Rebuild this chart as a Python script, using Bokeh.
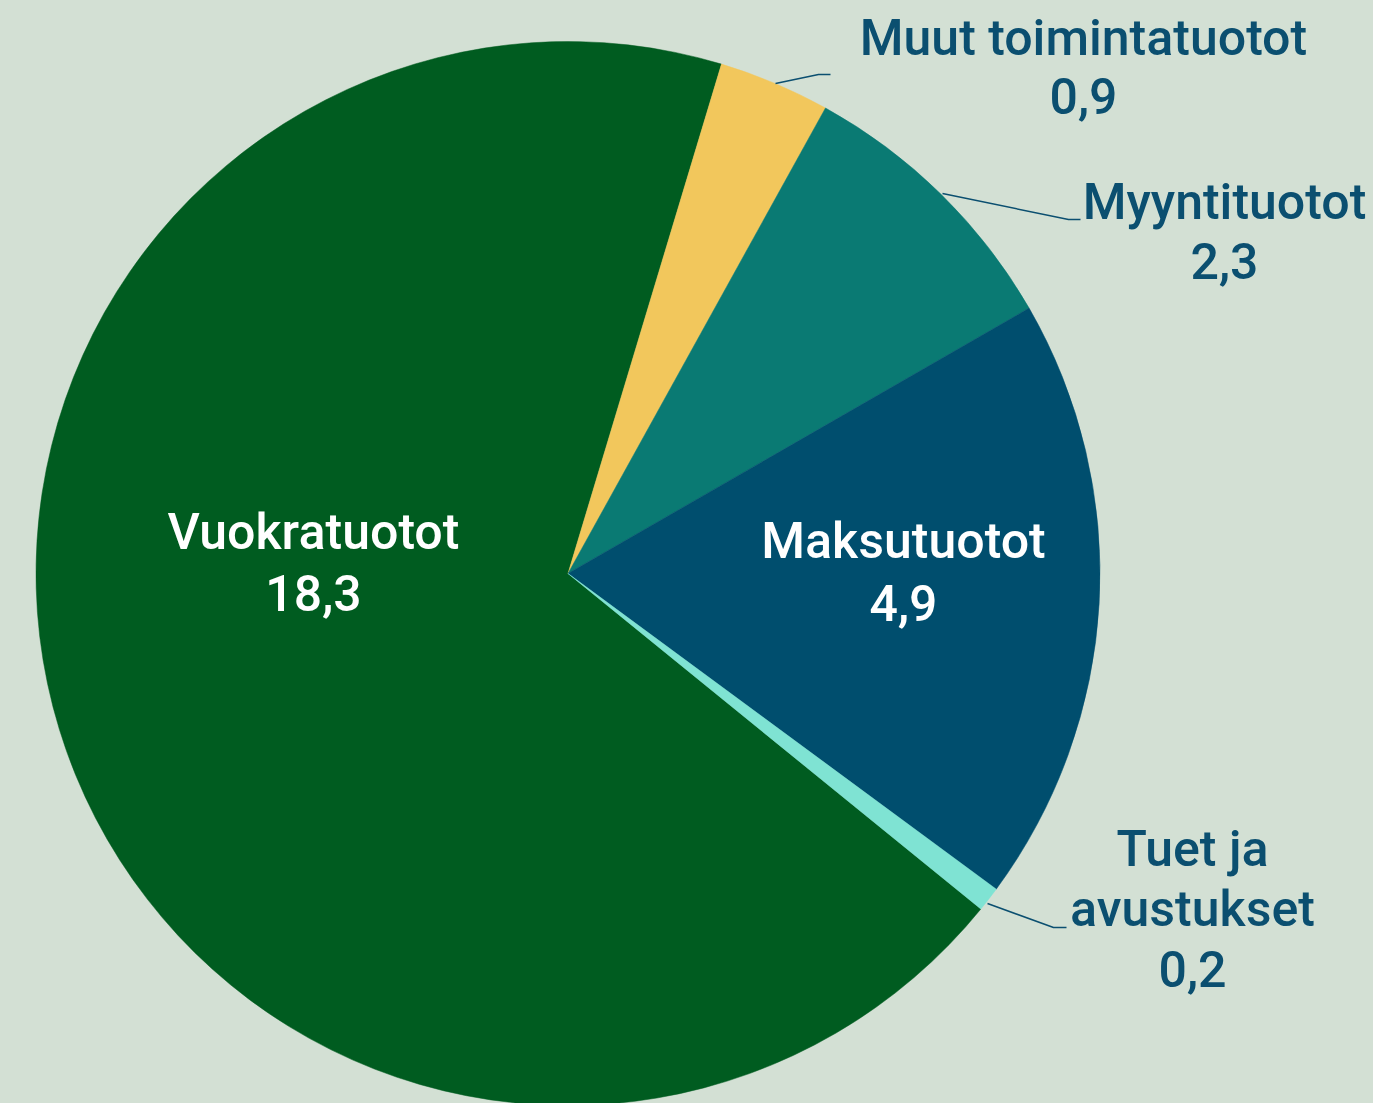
import math
from bokeh.plotting import figure
from bokeh.models import Range1d, ColumnDataSource
from bokeh.core.properties import value
from bokeh.embed import file_html
from bokeh.resources import INLINE

# ---- data ----
categories = ["Vuokratuotot", "Muut toimintatuotot", "Myyntituotot", "Maksutuotot", "Tuet ja avustukset"]
label_lines = [["Vuokratuotot"], ["Muut toimintatuotot"], ["Myyntituotot"], ["Maksutuotot"], ["Tuet ja", "avustukset"]]
values = [18.3, 0.9, 2.3, 4.9, 0.2]
colors = ["#005c20", "#f2c75c", "#0a7a73", "#004e6e", "#7fe3d3"]

BG = "#d3e0d4"
TXT = "#0b4f70"

W, H = 1373, 1103
p = figure(width=W, height=H, output_backend="svg", toolbar_location=None,
           x_range=Range1d(0, W), y_range=Range1d(0, H),
           min_border=0, background_fill_color=BG, border_fill_color=BG,
           outline_line_color=None)
p.axis.visible = False
p.grid.visible = False

def Y(y_img):
    return H - y_img

cx, cy, r = 567.5, Y(573), 532
start_cw = 129.1  # degrees clockwise from top where first slice begins
total = sum(values)
cum = 0.0
starts, ends = [], []
for v in values:
    a0 = start_cw + cum / total * 360.0
    cum += v
    a1 = start_cw + cum / total * 360.0
    starts.append(math.radians(90 - a1))
    ends.append(math.radians(90 - a0))

src = ColumnDataSource(dict(x=[cx] * len(values), y=[cy] * len(values),
                            start=starts, end=ends, color=colors, cat=categories))
p.wedge(x="x", y="y", radius=r, start_angle="start", end_angle="end",
        fill_color="color", line_color="color", line_width=0.5, source=src)

# ---- leader lines ----
leaders = [
    [(775, 83), (818, 74), (830, 74)],
    [(942, 193), (1068, 219), (1080, 219)],
    [(987, 903), (1053, 927), (1066, 927)],
]
for pts in leaders:
    p.line([q[0] for q in pts], [Y(q[1]) for q in pts], line_color=TXT, line_width=1.5)

# ---- labels ----
def fmt(v):
    return f"{v:.1f}".replace(".", ",")

BASE_ADJ = -18  # renderer baseline correction
# (center x, first baseline y, line spacing, colour)
label_pos = [
    (313, 549, 61, "white"),
    (1083, 55, 58, TXT),
    (1224, 219, 59, TXT),
    (903, 558, 62, "white"),
    (1192, 866, 60, TXT),
]
xs, ys, texts, tcols = [], [], [], []
for lines, v, (lx, ly, sp, col) in zip(label_lines, values, label_pos):
    all_lines = lines + [fmt(v)]
    for i, t in enumerate(all_lines):
        xs.append(lx)
        ys.append(Y(ly + BASE_ADJ + i * sp))
        texts.append(t)
        tcols.append(col)

tsrc = ColumnDataSource(dict(x=xs, y=ys, text=texts, color=tcols))
p.text(x="x", y="y", text="text", source=tsrc, text_color="color",
       text_font=value("'Roboto Medium', Roboto"), text_font_size="50px",
       text_align="center", text_baseline="alphabetic")

html = file_html(p, INLINE)
html = html.replace("<head>", "<head><style>html,body{background:%s;}</style>" % BG, 1)
open("out.html", "w").write(html)
